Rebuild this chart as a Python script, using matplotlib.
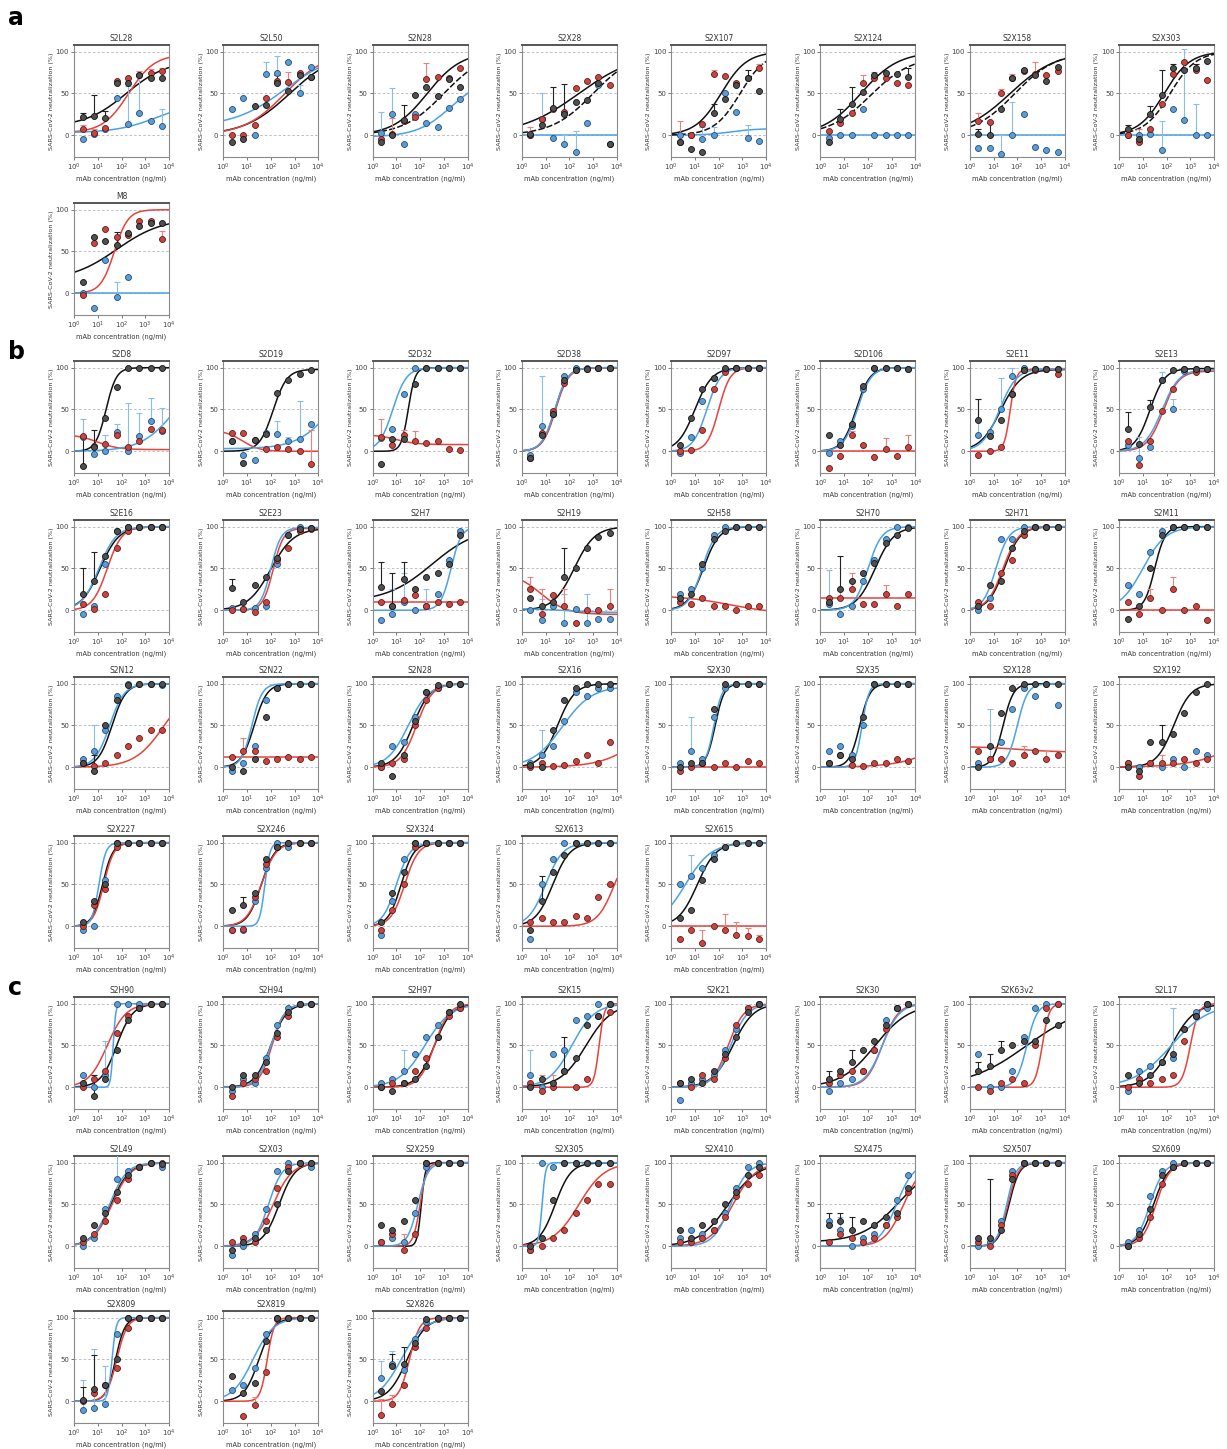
import numpy as np
import matplotlib
matplotlib.use("Agg")
import matplotlib.pyplot as plt

nan = np.nan

# 3-fold dilution series (ng/ml)
conc = [2.29, 6.86, 20.6, 61.7, 185, 556, 1667, 5000]

# ---------------- panel a ----------------
titles_a = ["S2L28", "S2L50", "S2N28", "S2X28", "S2X107", "S2X124", "S2X158", "S2X303", "M8"]
black_a = [
    [22, 23, 21, 63, 62, 72, 68, 68],
    [-8, -5, 35, 36, 62, 53, 72, 70],
    [-8, 0, 18, 48, 58, 47, 67, 58],
    [2, 12, 33, 26, 40, 42, 62, -10],
    [-8, -16, -20, 27, 43, 60, 68, 53],
    [-8, 20, 38, 52, 72, 74, 73, 70],
    [2, 0, 32, 68, 78, 72, 65, 82],
    [7, -5, 25, 48, 80, 78, 80, 89],
    [14, 67, 62, 58, 72, 80, 84, 84],
]
red_a = [
    [7, 3, 9, 65, 68, 72, 74, 77],
    [0, 0, 12, 45, 65, 64, 74, 70],
    [-5, 1, 17, 22, 67, 70, 68, 80],
    [0, 20, 32, 28, 57, 65, 70, 60],
    [-8, 0, 13, 73, 71, 62, 68, 80],
    [5, 15, 27, 62, 68, 68, 62, 60],
    [17, 16, 50, 68, 77, 73, 72, 77],
    [0, -8, 8, 38, 73, 88, 78, 66],
    [-2, 60, 77, 67, 70, 86, 86, 65],
]
blue_a = [
    [-4, 2, 8, 45, 14, 27, 17, 11],
    [31, 45, 0, 73, 75, 88, 50, 82],
    [3, 25, -10, 25, 15, 10, 33, 43],
    [0, 20, -3, -10, -20, 15, 60, -10],
    [0, 0, -5, 0, 50, 28, -3, -7],
    [-3, 0, 0, 32, 0, 0, 0, 0],
    [-15, -15, -22, 0, 25, -14, -18, -20],
    [0, 0, 2, -18, 32, 18, 0, 0],
    [0, -18, 40, -4, 20, nan, nan, nan],
]
err_black_a = {0: [5, 25, 8, 0, 0, 0, 0, 0], 1: [0, 0, 0, 0, 10, 0, 0, 0],
               2: [0, 0, 18, 0, 0, 0, 0, 0], 3: [0, 10, 25, 35, 0, 0, 0, 0],
               4: [0, 0, 0, 10, 0, 0, 10, 0], 5: [0, 12, 20, 0, 0, 0, 0, 10],
               6: [5, 15, 0, 0, 0, 0, 0, 0], 7: [5, 0, 10, 30, 5, 0, 5, 0],
               8: [0, 0, 0, 15, 0, 0, 0, 0]}
err_red_a = {0: [5, 5, 0, 0, 0, 5, 5, 3], 1: [0, 0, 0, 0, 0, 12, 0, 0],
             2: [0, 20, 0, 0, 20, 0, 0, 0], 3: [10, 0, 0, 0, 0, 0, 0, 0],
             4: [25, 0, 0, 5, 0, 0, 0, 5], 5: [0, 0, 0, 10, 8, 0, 0, 0],
             6: [10, 0, 5, 5, 0, 15, 0, 0], 7: [0, 15, 0, 0, 0, 0, 0, 0],
             8: [0, 0, 0, 0, 0, 0, 0, 10]}
err_blue_a = {0: [0, 0, 0, 0, 45, 45, 0, 20], 1: [0, 0, 0, 15, 20, 0, 10, 0],
              2: [25, 32, 0, 0, 0, 0, 0, 0], 3: [0, 30, 0, 10, 25, 0, 0, 0],
              4: [0, 0, 15, 10, 0, 0, 15, 0], 6: [0, 0, 22, 40, 0, 0, 0, 0],
              7: [0, 0, 0, 35, 0, 85, 38, 0], 8: [0, 0, 0, 18, 0, 0, 0, 0]}
# 4PL fits: (low-x plateau, high-x plateau, logEC50, hill)
fit_black_a = [(10, 90, 2.2, 0.5), (0, 100, 2.8, 0.45), (0, 100, 2.3, 0.6), (0, 100, 2.4, 0.35),
               (0, 100, 2.1, 0.8), (0, 100, 1.7, 0.55), (0, 100, 1.7, 0.45), (0, 100, 1.9, 0.8),
               (15, 90, 1.8, 0.45)]
fit_black2_a = [None, None, (0, 100, 3.0, 0.5), (0, 100, 3.0, 0.5), (0, 100, 2.9, 0.8),
                (0, 95, 2.1, 0.5), (0, 100, 1.9, 0.5), (0, 100, 2.15, 0.8), None]
fit_red_a = [(3, 97, 2.3, 0.8), (0, 100, 2.6, 0.5), None, None, None, None, None, None,
             (0, 100, 1.7, 1.5)]
fit_blue_a = [(3, 40, 3.5, 0.5), (10, 100, 2.6, 0.4), (-2, 70, 3.3, 0.6), (0, 0, 2, 1),
              (0, 8, 2.5, 0.8), (0, 0, 2, 1), (0, 0, 2, 1), (0, 0, 2, 1), (0, 0, 2, 1)]

# ---------------- panel b ----------------
titles_b = ["S2D8", "S2D19", "S2D32", "S2D38", "S2D97", "S2D106", "S2E11", "S2E13",
            "S2E16", "S2E23", "S2H7", "S2H19", "S2H58", "S2H70", "S2H71", "S2M11",
            "S2N12", "S2N22", "S2N28", "S2X16", "S2X30", "S2X35", "S2X128", "S2X192",
            "S2X227", "S2X246", "S2X324", "S2X613", "S2X615"]
black_b = [
    [-18, 5, 40, 77, 100, 100, 100, 100], [12, -14, 14, 21, 70, 85, 92, 97],
    [-15, 15, 15, 80, 100, 100, 100, 100], [-8, 20, 45, 85, 97, 99, 100, 100],
    [8, 40, 75, 88, 100, 100, 100, 100], [19, 8, 33, 78, 100, 100, 100, 99],
    [38, 18, 38, 68, 97, 98, 99, 98], [27, 9, 53, 85, 97, 99, 99, 99],
    [20, 35, 65, 95, 100, 100, 100, 100], [27, 10, 30, 40, 62, 90, 97, 98],
    [28, 5, 38, 25, 40, 45, 55, 90], [15, 5, 10, 40, 50, 75, 88, 92],
    [15, 20, 55, 85, 95, 100, 100, 100], [10, 25, 35, 45, 57, 80, 90, 98],
    [5, 30, 35, 75, 95, 100, 100, 100], [-10, 5, 50, 90, 100, 100, 100, 100],
    [5, -5, 50, 80, 98, 100, 100, 100], [0, -5, 10, 60, 95, 100, 100, 100],
    [5, -10, 15, 55, 90, 98, 100, 100], [3, 0, 45, 80, 95, 100, 100, 100],
    [0, 5, 5, 70, 100, 100, 100, 100], [5, 15, 10, 60, 100, 100, 100, 100],
    [0, 25, 65, 95, 100, 100, 100, 100], [0, -5, 30, 30, 40, 65, 90, 100],
    [5, 30, 50, 100, 100, 100, 100, 100], [20, 25, 40, 80, 95, 100, 100, 100],
    [5, 40, 65, 100, 100, 100, 100, 100], [-5, 30, 65, 85, 100, 100, 100, 100],
    [10, 20, 55, 80, 95, 100, 100, 100],
]
red_b = [
    [18, 6, 9, 19, 5, 12, 27, 25], [22, 22, 14, 3, 5, 3, 0, -15],
    [17, 8, 20, 12, 10, 12, 3, 2], [-8, 22, 48, 82, 97, 98, 100, 100],
    [0, 2, 25, 75, 95, 100, 100, 100], [-20, -6, 19, 8, -7, 3, -6, 5],
    [-5, 0, 5, 68, 97, 97, 98, 93], [12, -17, 12, 48, 75, 98, 95, 98],
    [8, 2, 20, 75, 95, 100, 100, 100], [0, 2, -2, 10, 60, 75, 95, 97],
    [10, 5, 12, 18, 5, 10, 8, 10], [25, -5, 18, 5, -15, 0, 0, 5],
    [10, 8, 15, 5, 5, 0, 5, 5], [15, 15, 25, 8, 8, 20, 5, 20],
    [10, 5, 45, 60, 90, 100, 100, 100], [10, -5, 15, 0, 25, 0, 5, -12],
    [5, 2, 5, 15, 25, 35, 45, 45], [12, 20, 20, 8, 10, 12, 10, 12],
    [0, 5, 10, 50, 80, 95, 100, 100], [0, 5, 2, 3, 8, 15, 5, 30],
    [-5, 0, 5, 0, 5, 0, 8, 5], [5, 15, 3, 2, 5, 5, 10, 8],
    [20, 10, 10, 5, 15, 20, 10, 15], [5, -10, 5, 5, 5, 10, 5, 10],
    [0, 25, 45, 95, 100, 100, 100, 100], [-5, -3, 35, 75, 95, 100, 100, 100],
    [-5, 20, 50, 95, 100, 100, 100, 100], [5, 10, 5, 5, 12, 10, 35, 50],
    [-15, -5, -20, 0, -5, -10, -12, -15],
]
blue_b = [
    [17, -3, 0, 23, 0, 18, 36, 24], [12, -5, -10, 22, 21, 12, 15, 33],
    [16, 27, 68, 100, 100, 100, 100, 100], [-5, 30, 45, 90, 100, 100, 100, 100],
    [-2, 17, 60, 88, 97, 100, 100, 100], [-2, 12, 30, 75, 100, 100, 100, 98],
    [20, 23, 50, 90, 100, 99, 99, 99], [8, -8, 5, 85, 50, 96, 99, 99],
    [-5, 5, 55, 95, 100, 100, 100, 100], [3, 2, 3, 5, 55, 90, 100, 98],
    [-12, -5, 10, 0, 5, 20, 60, 95], [0, -12, 5, -15, 2, -15, -10, -10],
    [20, 25, 50, 90, 100, 100, 100, 100], [8, -5, 5, 35, 60, 85, 100, 100],
    [0, 15, 85, 85, 100, 100, 100, 100], [30, 20, 70, 95, 100, 100, 100, 100],
    [10, 20, 45, 85, 100, 100, 100, 98], [-5, 5, 25, 80, 95, 100, 100, 100],
    [0, 25, 30, 60, 90, 95, 100, 100], [5, 15, 25, 55, 90, 85, 95, 95],
    [5, 20, 10, 60, 95, 100, 100, 100], [20, 25, 15, 50, 100, 100, 100, 100],
    [5, 10, 30, 70, 95, 85, 100, 75], [5, 0, 5, 0, 10, 0, 20, 15],
    [-5, 0, 55, 100, 100, 100, 100, 100], [-5, -5, 30, 70, 100, 95, 100, 100],
    [-10, 30, 80, 100, 100, 100, 100, 100], [-15, 50, 80, 100, 100, 100, 100, 100],
    [50, 60, 70, 85, 95, 100, 100, 100],
]
err_black_b = {0: [35, 20, 0, 0, 0, 0, 0, 0], 6: [25, 0, 0, 0, 0, 0, 0, 0],
               7: [20, 0, 8, 0, 0, 0, 0, 0], 8: [30, 35, 0, 0, 0, 0, 0, 0],
               9: [10, 0, 0, 0, 0, 0, 0, 0], 10: [30, 40, 20, 0, 0, 0, 0, 0],
               11: [0, 0, 0, 35, 0, 0, 0, 0], 13: [0, 40, 0, 0, 0, 0, 0, 0],
               16: [0, 20, 0, 0, 0, 0, 0, 0], 23: [0, 0, 0, 20, 0, 0, 0, 0],
               25: [0, 10, 0, 0, 0, 0, 0, 0], 27: [0, 30, 0, 0, 0, 0, 0, 0]}
err_red_b = {1: [0, 0, 0, 0, 0, 0, 0, 40], 2: [22, 0, 5, 12, 0, 0, 0, 0],
             5: [0, 0, 5, 0, 0, 13, 0, 15], 11: [15, 30, 0, 20, 0, 0, 0, 20],
             13: [0, 10, 20, 0, 0, 10, 0, 0], 15: [0, 0, 10, 0, 15, 0, 0, 0],
             17: [0, 15, 0, 0, 0, 0, 0, 0], 22: [0, 0, 0, 0, 10, 0, 10, 0],
             23: [0, 0, 0, 10, 0, 0, 0, 0], 28: [0, 0, 15, 0, 20, 15, 10, 5]}
err_blue_b = {0: [22, 5, 20, 10, 58, 28, 28, 28], 1: [0, 0, 0, 0, 15, 5, 45, 0],
              3: [0, 60, 0, 0, 0, 0, 0, 0], 6: [42, 0, 38, 10, 0, 0, 0, 0],
              7: [0, 25, 0, 10, 12, 0, 0, 0], 10: [0, 30, 35, 0, 20, 0, 0, 0],
              11: [0, 25, 0, 35, 0, 35, 0, 0], 13: [40, 0, 0, 0, 0, 0, 0, 0],
              16: [0, 30, 0, 0, 0, 0, 0, 0], 19: [0, 30, 0, 0, 0, 0, 0, 0],
              20: [0, 40, 0, 0, 0, 0, 0, 0], 22: [0, 60, 0, 0, 0, 0, 0, 0],
              28: [0, 25, 0, 0, 0, 0, 0, 0]}
fit_black_b = [(0, 100, 1.35, 2.0), (0, 98, 2.1, 1.5), (0, 100, 1.5, 3.0), (0, 100, 1.4, 1.6),
               (0, 100, 1.0, 1.2), (0, 100, 1.5, 1.5), (0, 98, 1.3, 1.0), (0, 99, 1.3, 1.4),
               (0, 100, 1.1, 1.1), (0, 98, 2.0, 0.9), (10, 100, 2.5, 0.45), (0, 100, 2.2, 1.0),
               (0, 100, 1.35, 1.3), (0, 100, 2.3, 1.1), (0, 100, 1.45, 1.3), (0, 100, 1.5, 2.0),
               (0, 100, 1.6, 1.5), (0, 100, 1.3, 1.6), (0, 100, 1.7, 1.2), (0, 100, 1.5, 1.2),
               (0, 100, 1.85, 2.3), (0, 100, 1.65, 2.0), (0, 100, 1.4, 2.0), (0, 100, 2.3, 1.2),
               (0, 100, 1.2, 2.0), (0, 100, 1.6, 1.5), (0, 100, 1.2, 1.6), (0, 100, 1.3, 1.2),
               (0, 100, 1.1, 1.1)]
fit_red_b = [(20, 2, 1.0, 1.0), (25, 0, 0.8, 1.2), (20, 8, 1.0, 1.0), (0, 100, 1.42, 1.6),
             (0, 100, 2.0, 1.8), (0, 0, 2, 1), (0, 98, 1.7, 3.5), (0, 96, 1.85, 1.3),
             (0, 100, 1.4, 1.4), (0, 98, 2.1, 2.0), (10, 10, 2, 1), (45, -5, 0.8, 0.8),
             (18, -5, 2.5, 0.4), (15, 15, 2, 1), (0, 100, 1.4, 1.3), (0, 0, 2, 1),
             (0, 100, 3.8, 0.7), (12, 12, 2, 1), (0, 100, 1.85, 1.3), (0, 100, 5.5, 0.5),
             (0, 0, 2, 1), (0, 100, 6.0, 0.45), (25, 18, 2, 0.5), (0, 100, 6.0, 0.4),
             (0, 100, 1.25, 2.0), (0, 100, 1.6, 1.4), (0, 100, 1.35, 1.5), (0, 100, 3.9, 1.2),
             (0, 0, 2, 1)]
fit_blue_b = [(0, 100, 4.3, 0.6), (3, 100, 4.6, 0.6), (0, 100, 0.85, 1.5), (0, 100, 1.38, 1.6),
              (0, 100, 1.5, 1.5), (0, 100, 1.55, 1.5), (0, 99, 1.25, 1.2), (0, 98, 1.8, 1.2),
              (0, 100, 1.05, 1.2), (0, 99, 2.0, 2.0), (0, 100, 3.3, 2.0), (2, -3, 2, 0.5),
              (0, 100, 1.3, 1.5), (0, 100, 2.0, 1.5), (0, 100, 1.1, 1.6), (0, 100, 1.0, 0.9),
              (0, 100, 1.5, 1.4), (0, 100, 1.2, 2.0), (0, 100, 1.5, 1.0), (0, 97, 1.7, 0.7),
              (0, 100, 1.8, 2.5), (0, 100, 1.75, 3.0), (0, 100, 2.0, 2.0), None,
              (0, 100, 1.05, 3.0), (0, 100, 1.75, 4.0), (0, 100, 1.0, 1.5), (0, 100, 1.0, 1.2),
              (0, 100, 0.6, 0.8)]

# ---------------- panel c ----------------
titles_c = ["S2H90", "S2H94", "S2H97", "S2K15", "S2K21", "S2K30", "S2K63v2", "S2L17",
            "S2L49", "S2X03", "S2X259", "S2X305", "S2X410", "S2X475", "S2X507", "S2X609",
            "S2X809", "S2X819", "S2X826"]
black_c = [
    [5, -10, 10, 45, 80, 95, 100, 100], [0, 15, 15, 30, 65, 90, 100, 100],
    [0, -5, 5, 10, 25, 60, 90, 100], [0, 10, 5, 20, 35, 75, 85, 100],
    [5, 10, 5, 20, 40, 60, 90, 100], [10, 20, 30, 45, 55, 75, 95, 100],
    [20, 25, 45, 50, 55, 55, 80, 75], [15, 5, 15, 30, 40, 70, 85, 100],
    [10, 25, 40, 65, 85, 95, 100, 98], [-5, 5, 10, 20, 50, 90, 100, 100],
    [25, 20, 30, 55, 100, 100, 100, 100], [0, 10, 55, 100, 100, 100, 100, 100],
    [20, 10, 25, 30, 50, 65, 85, 95], [25, 30, 20, 30, 25, 35, 40, 70],
    [10, 10, 20, 80, 100, 100, 100, 100], [0, 15, 45, 85, 95, 100, 100, 100],
    [2, 15, 20, 50, 100, 100, 100, 100], [30, 10, 22, 72, 100, 100, 100, 100],
    [12, 42, 45, 70, 98, 100, 100, 100],
]
red_c = [
    [0, 10, 20, 65, 85, 95, 100, 100], [-10, 5, 10, 20, 60, 85, 100, 100],
    [0, 5, 5, 20, 35, 60, 85, 95], [5, -5, 0, 20, 0, 10, 85, 90],
    [5, 0, 15, 10, 35, 75, 95, 100], [5, 15, 20, 20, 45, 70, 95, 100],
    [0, -5, 5, 10, 5, 50, 95, 100], [0, 10, 5, 10, 15, 55, 85, 100],
    [5, 15, 30, 55, 80, 95, 100, 100], [5, 10, 5, 30, 70, 95, 100, 100],
    [5, 15, -5, 15, 100, 100, 100, 100], [-5, 0, 10, 20, 40, 55, 75, 75],
    [5, 5, 10, 20, 35, 60, 75, 85], [5, 15, 10, 5, 10, 25, 35, 65],
    [5, 0, 25, 85, 100, 100, 100, 100], [0, 10, 35, 75, 95, 100, 100, 100],
    [0, 10, 20, 40, 88, 100, 100, 100], [nan, -18, -5, 35, 98, 100, 100, 100],
    [-17, -3, 20, 65, 88, 98, 100, 100],
]
blue_c = [
    [15, 0, 15, 100, 100, 100, 100, 100], [-5, 10, 5, 35, 75, 95, 100, 100],
    [5, 10, 20, 40, 60, 75, 90, 95], [15, 0, 40, 45, 80, 85, 100, 100],
    [-15, 5, 10, 15, 45, 70, 95, 100], [-5, 5, 10, 20, 45, 80, 95, 100],
    [40, 0, 0, 20, 60, 95, 100, 100], [-5, 20, 25, 30, 35, 70, 90, 95],
    [0, 10, 45, 80, 90, 95, 100, 95], [-10, 0, 15, 45, 90, 100, 100, 95],
    [5, 10, 5, 40, 95, 100, 100, 100], [-5, 100, 95, 100, 100, 100, 100, 100],
    [10, 20, 15, 20, 40, 70, 95, 100], [30, 20, 0, 10, 15, 25, 55, 85],
    [0, 5, 30, 90, 100, 100, 100, 100], [5, 20, 60, 90, 100, 100, 100, 100],
    [-10, -8, -3, 80, 100, 100, 100, 100], [13, 20, 40, 80, 100, 100, 100, 100],
    [28, 45, 38, 75, 95, 100, 100, 100],
]
err_black_c = {0: [0, 25, 0, 0, 0, 0, 0, 0], 3: [0, 0, 0, 40, 0, 0, 0, 0],
               5: [10, 0, 15, 0, 0, 0, 0, 0], 6: [10, 15, 10, 0, 0, 0, 0, 0],
               7: [0, 15, 0, 0, 0, 0, 0, 0], 11: [0, 0, 0, 0, 0, 0, 0, 0],
               13: [15, 10, 15, 0, 0, 0, 0, 0], 14: [0, 70, 0, 0, 0, 0, 0, 0],
               16: [15, 40, 0, 0, 0, 0, 0, 0], 18: [0, 15, 20, 0, 0, 0, 0, 0]}
err_red_c = {3: [0, 20, 15, 0, 0, 0, 0, 0], 10: [0, 0, 20, 0, 0, 0, 0, 0],
             13: [0, 0, 10, 0, 0, 0, 0, 0], 17: [0, 0, 10, 0, 0, 0, 0, 0],
             18: [20, 10, 0, 0, 0, 0, 0, 0]}
err_blue_c = {0: [0, 0, 40, 0, 0, 0, 0, 0], 2: [0, 0, 25, 0, 0, 0, 0, 0],
              3: [30, 0, 0, 0, 0, 0, 0, 0], 7: [0, 0, 0, 0, 60, 0, 0, 0],
              8: [0, 0, 0, 65, 0, 0, 0, 0], 11: [0, 0, 0, 0, 0, 0, 0, 0],
              13: [0, 15, 0, 0, 0, 0, 0, 0], 16: [35, 70, 45, 0, 0, 0, 0, 0],
              17: [0, 0, 0, 0, 0, 0, 0, 0], 18: [20, 15, 0, 0, 0, 0, 0, 0]}
fit_black_c = [(0, 100, 1.8, 1.3), (0, 100, 2.0, 1.3), (0, 100, 2.6, 1.2), (0, 100, 2.7, 0.8),
               (0, 100, 2.6, 1.0), (0, 100, 2.3, 0.6), (0, 100, 2.4, 0.35), (0, 100, 2.2, 0.9),
               (0, 100, 1.55, 1.1), (0, 100, 2.35, 1.3), (0, 100, 2.05, 5.0), (0, 100, 1.4, 1.3),
               (0, 100, 2.4, 0.7), (5, 100, 3.3, 0.55), (0, 100, 1.65, 2.0), (0, 100, 1.45, 1.4),
               (0, 100, 1.75, 2.2), (0, 100, 1.5, 1.4), (0, 100, 1.45, 1.1)]
fit_red_c = [(0, 100, 1.4, 1.1), (0, 100, 2.05, 1.6), (0, 100, 2.6, 1.4), (0, 100, 3.25, 4.0),
             (0, 100, 2.4, 1.3), (0, 100, 2.6, 1.3), (0, 100, 3.05, 3.0), (0, 100, 3.0, 2.5),
             (0, 100, 1.6, 1.1), (0, 100, 2.1, 1.1), (0, 100, 2.0, 3.0), (0, 100, 2.4, 0.8),
             (0, 100, 2.6, 0.9), (0, 100, 3.5, 1.1), (0, 100, 1.6, 2.0), (0, 100, 1.55, 1.5),
             (0, 100, 1.8, 2.0), (0, 100, 1.85, 3.0), (0, 100, 1.55, 2.0)]
fit_blue_c = [(0, 100, 1.65, 8.0), (0, 100, 2.0, 1.5), (0, 100, 2.2, 0.8), (0, 100, 2.1, 0.9),
              (0, 100, 2.5, 1.2), (0, 100, 2.6, 1.2), (0, 100, 2.4, 2.0), (0, 100, 2.2, 0.55),
              (0, 100, 1.5, 1.2), (0, 100, 1.9, 1.5), (0, 100, 1.9, 2.0), (0, 100, 0.85, 6.0),
              (0, 100, 2.5, 1.2), (0, 100, 3.2, 1.2), (0, 100, 1.55, 2.2), (0, 100, 1.3, 1.5),
              (0, 100, 1.6, 5.0), (0, 100, 1.25, 1.0), (0, 100, 1.2, 0.9)]

# ---------------- style ----------------
W, H = 1227, 1449
col_left0, col_pitch, box_w, box_h = 74, 149.3, 95, 112
row_tops_a = [45, 203]
row_tops_b = [361, 520, 677, 836]
row_tops_c = [997, 1156, 1311]

series_style = {
    "black": dict(face="#505050", edge="#111111", line="#111111", err="#222222"),
    "red": dict(face="#c9443e", edge="#5c1c1a", line="#e8423a", err="#e8837d"),
    "blue": dict(face="#5d9bd3", edge="#1f4e79", line="#4aa3e6", err="#8cbde8"),
}

xs = np.logspace(0, 4, 300)


def fpl(x, lo, hi, logec, hill):
    return lo + (hi - lo) / (1 + 10 ** ((logec - np.log10(x)) * hill))


def draw_panel(ax, title, pts, errs, fits, extra_fit=None):
    for yv in (0, 50, 100):
        ax.axhline(yv, color="#b5b5b5", lw=0.6, ls=(0, (3, 2.5)), zorder=1)
    for name in ("black", "red", "blue"):
        st = series_style[name]
        if fits[name] is not None:
            ax.plot(xs, fpl(xs, *fits[name]), color=st["line"], lw=1.1, zorder=2)
    if extra_fit is not None:
        ax.plot(xs, fpl(xs, *extra_fit), color="#111111", lw=1.1, ls=(0, (4, 1.5)), zorder=2)
    for name in ("blue", "red", "black"):
        st = series_style[name]
        y = np.array(pts[name], dtype=float)
        x = np.array(conc)
        e = errs[name]
        if e is not None:
            e = np.array(e, dtype=float)
            m = (e > 0) & ~np.isnan(y)
            if m.any():
                ax.errorbar(x[m], y[m], yerr=[np.zeros(m.sum()), e[m]], fmt="none",
                            ecolor=st["err"], elinewidth=0.8, capsize=2, capthick=0.8, zorder=3)
        ax.plot(x, y, "o", ms=4.3, mfc=st["face"], mec=st["edge"], mew=0.6, zorder=4)

    ax.set_xscale("log")
    ax.set_xlim(1, 1e4)
    ax.set_ylim(-26, 108)
    ax.set_xticks([1, 10, 100, 1000, 10000])
    ax.set_xticklabels([r"$10^{0}$", r"$10^{1}$", r"$10^{2}$", r"$10^{3}$", r"$10^{4}$"])
    ax.set_yticks([0, 50, 100])
    ax.tick_params(labelsize=5, length=2, width=0.5, pad=1.5, colors="#444444")
    ax.tick_params(which="minor", length=1.2, width=0.4, colors="#666666")
    for s in ("left", "bottom", "right"):
        ax.spines[s].set_color("#8a8a8a")
        ax.spines[s].set_linewidth(0.8)
    ax.spines["top"].set_color("#555555")
    ax.spines["top"].set_linewidth(1.4)
    ax.set_title(title, fontsize=5.5, pad=3, color="#333333")
    ax.set_ylabel("SARS-CoV-2 neutralization (%)", fontsize=4.6, labelpad=1, color="#333333")
    ax.set_xlabel("mAb concentration (ng/ml)", fontsize=4.8, labelpad=1.5, color="#333333")


fig = plt.figure(figsize=(W / 100, H / 100), dpi=100)


def add_box(idx, row_tops):
    r, c = divmod(idx, 8)
    left = col_left0 + col_pitch * c
    top = row_tops[r]
    return fig.add_axes([left / W, 1 - (top + box_h) / H, box_w / W, box_h / H])


sections = [
    (titles_a, black_a, red_a, blue_a, err_black_a, err_red_a, err_blue_a,
     fit_black_a, fit_red_a, fit_blue_a, fit_black2_a, row_tops_a),
    (titles_b, black_b, red_b, blue_b, err_black_b, err_red_b, err_blue_b,
     fit_black_b, fit_red_b, fit_blue_b, None, row_tops_b),
    (titles_c, black_c, red_c, blue_c, err_black_c, err_red_c, err_blue_c,
     fit_black_c, fit_red_c, fit_blue_c, None, row_tops_c),
]

for (tt, bk, rd, bl, ebk, erd, ebl, fbk, frd, fbl, fk2, tops) in sections:
    for i, t in enumerate(tt):
        ax = add_box(i, tops)
        pts = {"black": bk[i], "red": rd[i], "blue": bl[i]}
        errs = {"black": ebk.get(i), "red": erd.get(i), "blue": ebl.get(i)}
        fits = {"black": fbk[i], "red": frd[i], "blue": fbl[i]}
        draw_panel(ax, t, pts, errs, fits, None if fk2 is None else fk2[i])

for lab, ypx in (("a", 18), ("b", 352), ("c", 988)):
    fig.text(8 / W, 1 - ypx / H, lab, fontsize=17, fontweight="bold", va="center", ha="left")

fig.savefig("out.png", dpi=100)
